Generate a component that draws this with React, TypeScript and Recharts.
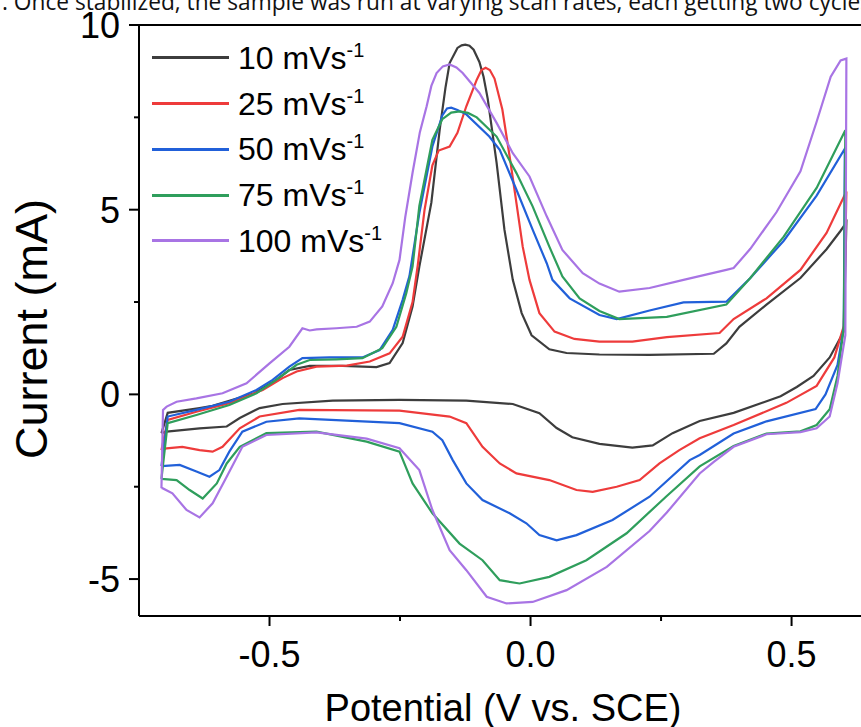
import React from "react";
import { LineChart, Line, XAxis, YAxis, Legend, ReferenceLine } from "recharts";

const FONT = "'Liberation Sans', Arial, sans-serif";

// scan rates (mV/s) and their colours, in legend order
const rates = [10, 25, 50, 75, 100];
const colors = ["#3d3d3d", "#ee3b3b", "#2160d9", "#2f9e5c", "#a874e4"];

const xTicks = [-0.5, -0.25, 0, 0.25, 0.5];
const xMajor = [-0.5, 0, 0.5];
const yTicks = [-5, -2.5, 0, 2.5, 5, 7.5, 10];
const yMajor = [-5, 0, 5, 10];

// [potential V vs SCE, current mA], traced around each closed loop
const scan10: [number, number][] = [
  [-0.707, -1.05], [-0.695, -0.5], [-0.634, -0.37], [-0.609, -0.31], [-0.529, 0.03], [-0.487, 0.39],
  [-0.462, 0.66], [-0.423, 0.77], [-0.36, 0.77], [-0.295, 0.74], [-0.27, 0.85], [-0.245, 1.39],
  [-0.226, 2.38], [-0.213, 3.46], [-0.19, 5.19], [-0.174, 7.17], [-0.163, 8.3], [-0.155, 8.97],
  [-0.14, 9.38], [-0.132, 9.45], [-0.125, 9.47], [-0.117, 9.44], [-0.109, 9.33], [-0.098, 9.0],
  [-0.09, 8.6], [-0.082, 8.0], [-0.065, 6.27], [-0.05, 4.46], [-0.034, 3.1], [-0.017, 2.2],
  [0.002, 1.6], [0.036, 1.22], [0.069, 1.12], [0.132, 1.08], [0.228, 1.07], [0.351, 1.1],
  [0.375, 1.38], [0.4, 1.83], [0.452, 2.43], [0.517, 3.15], [0.567, 3.93], [0.594, 4.43], [0.605, 4.65],
  [0.6, 1.7], [0.573, 1.0], [0.542, 0.5], [0.51, 0.2], [0.479, -0.05], [0.389, -0.5], [0.324, -0.72],
  [0.272, -1.05], [0.234, -1.38], [0.195, -1.44], [0.132, -1.34], [0.08, -1.16], [0.05, -0.91],
  [0.017, -0.51], [-0.034, -0.26], [-0.123, -0.17], [-0.251, -0.15], [-0.379, -0.17], [-0.475, -0.26],
  [-0.519, -0.37], [-0.557, -0.64], [-0.582, -0.87], [-0.634, -0.92], [-0.697, -1.01], [-0.707, -1.05],
];

const scan25: [number, number][] = [
  [-0.707, -1.51], [-0.695, -0.69], [-0.64, -0.47], [-0.577, -0.24], [-0.513, 0.12], [-0.475, 0.44],
  [-0.448, 0.62], [-0.41, 0.75], [-0.352, 0.78], [-0.308, 0.89], [-0.27, 1.11], [-0.245, 1.56],
  [-0.226, 2.5], [-0.216, 3.5], [-0.203, 5.0], [-0.188, 6.2], [-0.176, 6.6], [-0.155, 6.71],
  [-0.14, 7.08], [-0.123, 7.8], [-0.103, 8.52], [-0.094, 8.78], [-0.086, 8.84], [-0.078, 8.78],
  [-0.069, 8.55], [-0.054, 7.71], [-0.04, 6.44], [-0.027, 5.18], [-0.015, 4.0], [-0.002, 3.1],
  [0.017, 2.2], [0.046, 1.7], [0.084, 1.5], [0.132, 1.43], [0.195, 1.43], [0.261, 1.55],
  [0.362, 1.66], [0.389, 2.04], [0.452, 2.6], [0.517, 3.37], [0.567, 4.37], [0.605, 5.49],
  [0.6, 1.85], [0.582, 1.0], [0.548, 0.23], [0.49, -0.23], [0.389, -0.83], [0.324, -1.19],
  [0.285, -1.51], [0.247, -1.87], [0.209, -2.32], [0.165, -2.5], [0.119, -2.64], [0.088, -2.59],
  [0.036, -2.32], [-0.027, -2.14], [-0.059, -1.87], [-0.092, -1.42], [-0.123, -0.78], [-0.155, -0.6],
  [-0.251, -0.44], [-0.443, -0.42], [-0.519, -0.6], [-0.557, -0.92], [-0.59, -1.42], [-0.609, -1.55],
  [-0.634, -1.51], [-0.667, -1.42], [-0.697, -1.46], [-0.707, -1.51],
];

const scan50: [number, number][] = [
  [-0.707, -1.94], [-0.695, -0.6], [-0.64, -0.42], [-0.577, -0.2], [-0.525, 0.12], [-0.494, 0.39],
  [-0.462, 0.75], [-0.437, 0.98], [-0.385, 1.0], [-0.322, 1.0], [-0.289, 1.2], [-0.264, 1.75],
  [-0.245, 2.56], [-0.232, 3.2], [-0.213, 4.91], [-0.188, 6.71], [-0.169, 7.55], [-0.16, 7.74],
  [-0.152, 7.76], [-0.14, 7.7], [-0.123, 7.58], [-0.079, 6.98], [-0.059, 6.62], [-0.027, 5.54],
  [0.004, 4.46], [0.031, 3.55], [0.042, 3.1], [0.075, 2.6], [0.132, 2.15], [0.165, 2.04],
  [0.228, 2.27], [0.293, 2.49], [0.375, 2.51], [0.421, 3.15], [0.485, 4.16], [0.548, 5.38], [0.602, 6.65],
  [0.6, 1.8], [0.588, 0.8], [0.565, 0.0], [0.546, -0.4], [0.452, -0.73], [0.389, -1.06],
  [0.324, -1.64], [0.305, -1.78], [0.228, -2.77], [0.157, -3.4], [0.088, -3.81], [0.05, -3.95],
  [0.017, -3.81], [-0.008, -3.49], [-0.04, -3.22], [-0.092, -2.86], [-0.123, -2.41], [-0.149, -1.78],
  [-0.169, -1.24], [-0.188, -1.01], [-0.251, -0.78], [-0.443, -0.65], [-0.506, -0.74], [-0.552, -1.01],
  [-0.577, -1.55], [-0.596, -2.05], [-0.615, -2.23], [-0.64, -2.09], [-0.672, -1.91], [-0.707, -1.94],
];

const scan75: [number, number][] = [
  [-0.707, -2.29], [-0.695, -0.78], [-0.64, -0.56], [-0.577, -0.29], [-0.525, 0.03], [-0.487, 0.39],
  [-0.448, 0.8], [-0.423, 0.93], [-0.372, 0.95], [-0.322, 0.98], [-0.284, 1.25], [-0.257, 1.83],
  [-0.238, 2.74], [-0.226, 3.46], [-0.213, 5.1], [-0.188, 6.89], [-0.169, 7.45], [-0.152, 7.63],
  [-0.136, 7.66], [-0.12, 7.62], [-0.103, 7.5], [-0.065, 6.98], [-0.027, 5.99], [0.004, 5.09],
  [0.036, 4.0], [0.061, 3.19], [0.094, 2.6], [0.132, 2.26], [0.17, 2.04], [0.261, 2.1], [0.375, 2.43],
  [0.421, 3.15], [0.485, 4.27], [0.548, 5.59], [0.603, 7.15],
  [0.6, 1.8], [0.588, 0.5], [0.573, -0.4], [0.548, -0.83], [0.517, -1.0], [0.452, -1.06],
  [0.389, -1.4], [0.324, -1.95], [0.261, -2.75], [0.184, -3.76], [0.107, -4.49], [0.036, -4.94],
  [-0.021, -5.12], [-0.059, -5.03], [-0.092, -4.49], [-0.136, -4.04], [-0.188, -3.22], [-0.226, -2.41],
  [-0.251, -1.55], [-0.314, -1.28], [-0.41, -1.01], [-0.506, -1.05], [-0.557, -1.42], [-0.582, -1.87],
  [-0.601, -2.41], [-0.628, -2.82], [-0.653, -2.59], [-0.678, -2.32], [-0.707, -2.29],
];

const scan100: [number, number][] = [
  [-0.707, -2.54], [-0.704, -0.42], [-0.697, -0.33], [-0.678, -0.2], [-0.64, -0.11], [-0.59, 0.03],
  [-0.544, 0.3], [-0.5, 0.84], [-0.462, 1.29], [-0.437, 1.79], [-0.423, 1.73], [-0.41, 1.76],
  [-0.372, 1.79], [-0.333, 1.83], [-0.308, 1.97], [-0.284, 2.38], [-0.264, 3.01], [-0.251, 3.64],
  [-0.24, 4.8], [-0.226, 6.0], [-0.212, 7.1], [-0.199, 7.8], [-0.19, 8.35], [-0.18, 8.7],
  [-0.168, 8.88], [-0.155, 8.93], [-0.142, 8.85], [-0.13, 8.7], [-0.098, 8.16], [-0.065, 7.35],
  [-0.034, 6.53], [-0.002, 5.9], [0.031, 4.82], [0.061, 3.91], [0.1, 3.28], [0.132, 3.0],
  [0.17, 2.78], [0.228, 2.88], [0.293, 3.1], [0.375, 3.37], [0.389, 3.42], [0.421, 3.94],
  [0.471, 4.93], [0.517, 6.04], [0.548, 7.38], [0.575, 8.6], [0.594, 9.04], [0.605, 9.09],
  [0.603, 1.6], [0.588, 0.3], [0.573, -0.6], [0.548, -0.92], [0.517, -1.02], [0.452, -1.08],
  [0.389, -1.42], [0.351, -1.83], [0.324, -2.14], [0.261, -3.2], [0.228, -3.7], [0.146, -4.67],
  [0.069, -5.3], [0.004, -5.62], [-0.046, -5.66], [-0.084, -5.48], [-0.123, -4.76], [-0.155, -4.22],
  [-0.188, -3.13], [-0.213, -2.05], [-0.251, -1.46], [-0.314, -1.2], [-0.41, -1.03], [-0.506, -1.1],
  [-0.552, -1.42], [-0.582, -2.23], [-0.609, -2.95], [-0.634, -3.33], [-0.659, -3.13], [-0.686, -2.68],
  [-0.705, -2.54], [-0.707, -2.54],
];

const scans = [scan10, scan25, scan50, scan75, scan100];

const toRows = (pts: [number, number][]) => pts.map(([E, I]) => ({ E, I }));

const XTick = ({ x, y, payload }: any) => {
  const major = xMajor.includes(payload.value);
  return (
    <g>
      <line x1={x} x2={x} y1={y} y2={y + (major ? 10 : 5)} stroke="#000" strokeWidth={2} />
      {major && (
        <text x={x} y={y + 51} textAnchor="middle" fontSize={36} fontFamily={FONT} fill="#000">
          {payload.value.toFixed(1)}
        </text>
      )}
    </g>
  );
};

const YTick = ({ x, y, payload }: any) => {
  const major = yMajor.includes(payload.value);
  return (
    <g>
      <line x1={x} x2={x - (major ? 10 : 5)} y1={y} y2={y} stroke="#000" strokeWidth={2} />
      {major && (
        <text x={x - 19} y={y + 13} textAnchor="end" fontSize={36} fontFamily={FONT} fill="#000">
          {String(payload.value)}
        </text>
      )}
    </g>
  );
};

const ScanLegend = () => (
  <div style={{ fontFamily: FONT, color: "#000" }}>
    {rates.map((r, i) => (
      <div key={r} style={{ display: "flex", alignItems: "center", height: 45.75 }}>
        <div style={{ width: 77, height: 3, background: colors[i], marginRight: 9 }} />
        <span style={{ fontSize: 32, lineHeight: 1, whiteSpace: "nowrap" }}>
          {r} mVs
          <span style={{ fontSize: 20, position: "relative", top: -12 }}>-1</span>
        </span>
      </div>
    ))}
  </div>
);

export default function App() {
  return (
    <div style={{ position: "absolute", left: 0, top: 0, width: 861, height: 727, overflow: "hidden", background: "#fff" }}>
      <svg width={861} height={30} style={{ position: "absolute", left: 0, top: 0 }}>
        <text x={2} y={10} fontSize={24} fontFamily="'Open Sans', 'Noto Sans', sans-serif" fill="#111"
          textLength={875} lengthAdjust="spacingAndGlyphs">
          . Once stabilized, the sample was run at varying scan rates, each getting two cycles.
        </text>
      </svg>
      <LineChart width={861} height={727} margin={{ top: 25, right: 0, bottom: 0, left: 0 }}>
        <XAxis
          dataKey="E"
          type="number"
          domain={[-0.75, 0.633]}
          allowDataOverflow
          ticks={xTicks}
          interval={0}
          tick={<XTick />}
          tickLine={false}
          tickSize={0}
          tickMargin={0}
          axisLine={{ stroke: "#000", strokeWidth: 2 }}
          height={111}
          label={{
            content: () => (
              <text x={503} y={721} textAnchor="middle" fontSize={38} fontFamily={FONT} fill="#000">
                Potential (V vs. SCE)
              </text>
            ),
          }}
        />
        <YAxis
          type="number"
          domain={[-6, 10]}
          allowDataOverflow
          ticks={yTicks}
          interval={0}
          tick={<YTick />}
          tickLine={false}
          tickSize={0}
          tickMargin={0}
          axisLine={{ stroke: "#000", strokeWidth: 2 }}
          width={139}
          label={{
            content: () => (
              <text transform="translate(47,329) rotate(-90)" textAnchor="middle" fontSize={45} fontFamily={FONT} fill="#000">
                Current (mA)
              </text>
            ),
          }}
        />
        <ReferenceLine y={10} stroke="#000" strokeWidth={2} />
        {scans.map((s, i) => (
          <Line
            key={rates[i]}
            data={toRows(s)}
            dataKey="I"
            name={`${rates[i]} mVs-1`}
            type="linear"
            stroke={colors[i]}
            strokeWidth={2.2}
            dot={false}
            activeDot={false}
            isAnimationActive={false}
          />
        ))}
        <Legend
          layout="vertical"
          align="center"
          verticalAlign="middle"
          content={<ScanLegend />}
          wrapperStyle={{ left: 152, top: 35, width: 300, height: 230 }}
        />
      </LineChart>
    </div>
  );
}
